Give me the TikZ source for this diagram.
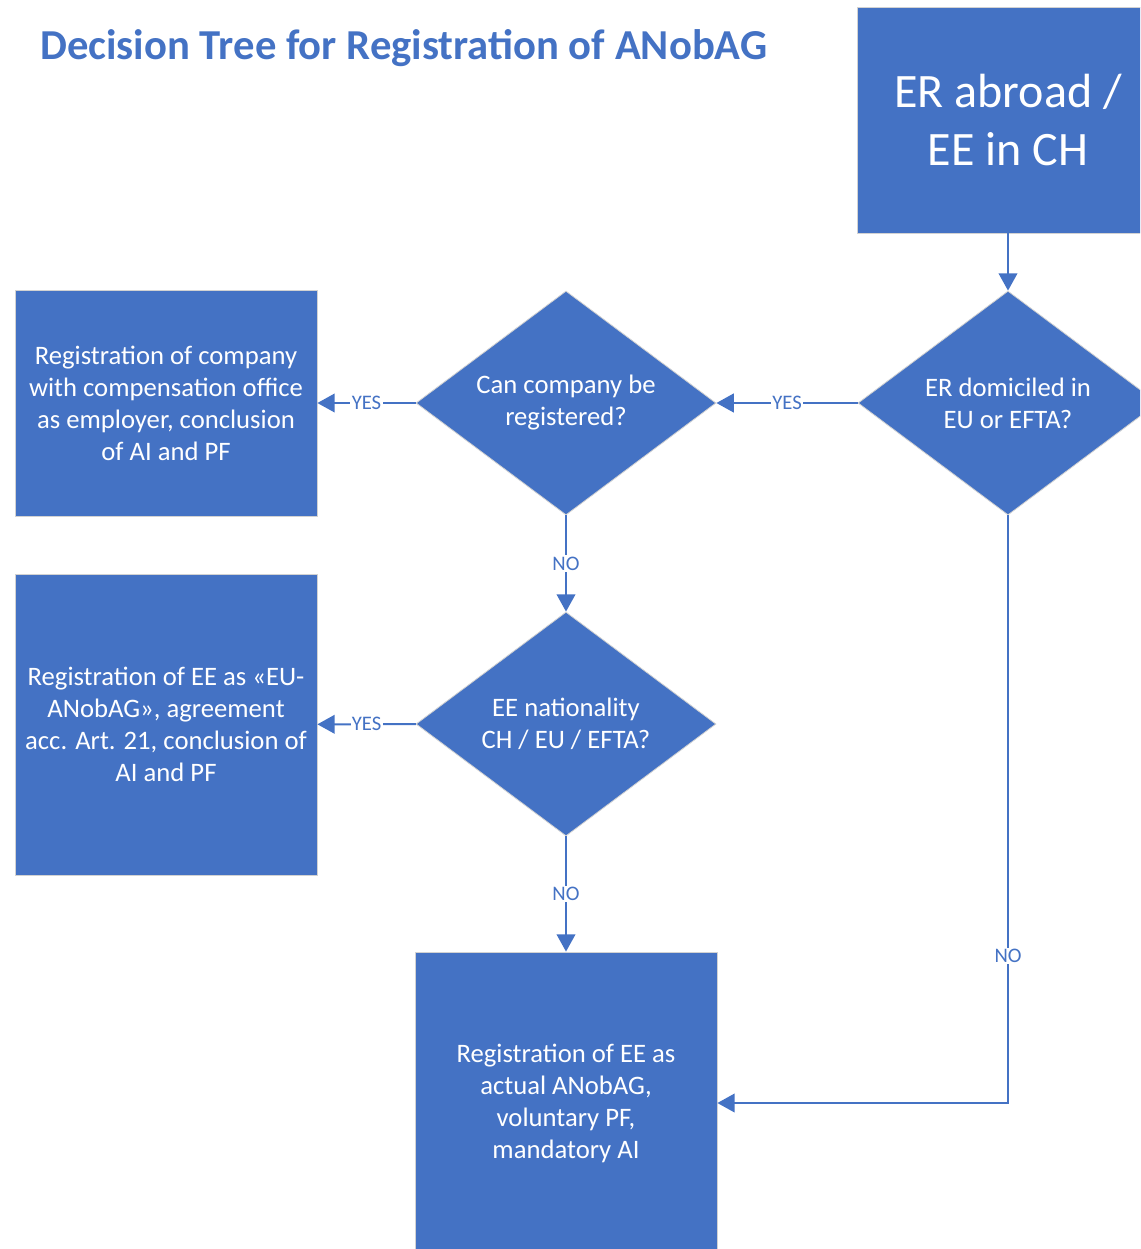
\documentclass[tikz,border=0pt]{standalone}
\usepackage{fontspec}
\setmainfont{Carlito}
\usepackage{xcolor}
\usepackage{tikz}
\usetikzlibrary{shapes.geometric,arrows.meta}

\definecolor{officeblue}{RGB}{68,114,196}

\tikzset{
  boxnode/.style={rectangle,fill=officeblue,draw=gray!35,line width=0.6pt,text=white,align=center,inner sep=0pt,font=\fontsize{20}{24}\selectfont},
  decnode/.style={diamond,aspect=1.34,fill=officeblue,draw=gray!35,line width=0.6pt,text=white,align=center,inner sep=0pt,font=\fontsize{20}{24}\selectfont,minimum width=225pt,minimum height=168pt},
  flow/.style={draw=officeblue,line width=1.5pt,-{Triangle[length=13pt,width=14pt]}},
  answer/.style={fill=white,text=officeblue,inner sep=1pt,font=\fontsize{15.5}{18}\selectfont}
}

\begin{document}
\begin{tikzpicture}[x=0.75pt,y=0.75pt,yscale=-1,xscale=1]
\clip (0,0) rectangle (1140,1249); %size of diagram

% Title
\node (title) [anchor=west,inner sep=0pt,text=officeblue,font=\fontsize{32}{38}\selectfont\bfseries] at (40,48) {Decision Tree for Registration of ANobAG};

%Shape: Rectangle [start]
\node (start) [boxnode,minimum width=226.5pt,minimum height=169.5pt,font=\fontsize{36}{43.5}\selectfont] at (1008,120) {ER abroad /\\EE in CH};

%Shape: Diamond
\node (domiciled) [decnode] at (1008,403) {ER domiciled in\\EU or EFTA?};
%Shape: Diamond
\node (canreg) [decnode] at (566,403) {Can company be\\registered?};
%Shape: Diamond
\node (nation) [decnode] at (566,724) {EE nationality\\CH / EU / EFTA?};

%Shape: Rectangle
\node (company) [boxnode,minimum width=226.5pt,minimum height=169.5pt] at (166,403) {Registration of company\\with compensation office\\as employer, conclusion\\of AI and PF};
%Shape: Rectangle
\node (euanobag) [boxnode,minimum width=226.5pt,minimum height=225.75pt] at (166,724.5) {Registration of EE as «EU-\\ANobAG», agreement\\acc. Art. 21, conclusion of\\AI and PF};
%Shape: Rectangle
\node (actual) [boxnode,minimum width=226.5pt,minimum height=226.5pt] at (566,1103) {Registration of EE as\\actual ANobAG,\\voluntary PF,\\mandatory AI};

% Connectors
\draw [flow] (start) -- (domiciled);
\draw [flow] (domiciled) -- node [answer] {YES} (canreg);
\draw [flow] (canreg) -- node [answer] {YES} (company);
\draw [flow] (canreg) -- node [answer] {NO} (nation);
\draw [flow] (nation) -- node [answer] {YES} (euanobag);
\draw [flow] (nation) -- node [answer] {NO} (actual);
\draw [flow] (domiciled.south) |- node [answer,pos=0.375] {NO} (actual.east);
\end{tikzpicture}
\end{document}
